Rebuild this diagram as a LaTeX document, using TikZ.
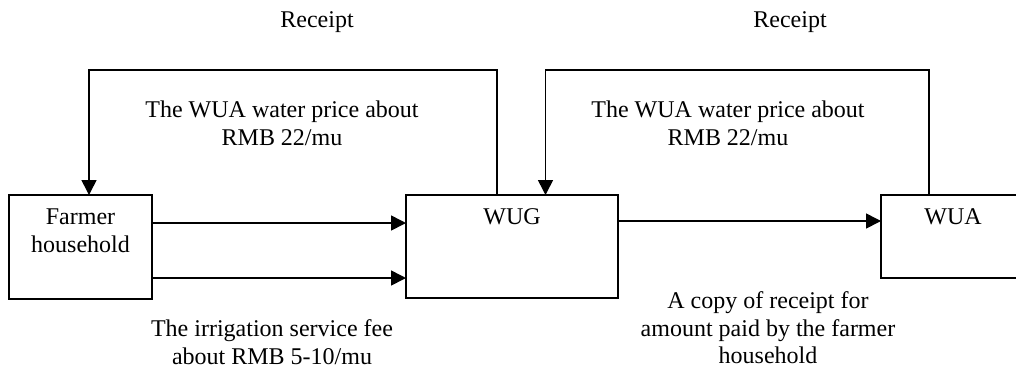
\documentclass[tikz,border=0pt]{standalone}
\usepackage{fontspec}
\setmainfont{Liberation Serif}
\usetikzlibrary{arrows.meta}
\begin{document}
\begin{tikzpicture}[x=1pt,y=-1pt,
  box/.style={draw,line width=1.6pt,inner sep=0pt,outer sep=0pt},
  txt/.style={font=\fontsize{24}{27.6}\selectfont,align=center,inner sep=0pt},
  arr/.style={line width=1.6pt,-{Triangle[length=15pt,width=15pt]}}]
\clip (0,0) rectangle (1016,368);
\fill[white] (0,0) rectangle (1016,368);
% boxes
\node[box,minimum width=143pt,minimum height=104pt] (farmer) at (80.5,247) {};
\node[box,minimum width=212pt,minimum height=103pt] (wug) at (512,246.5) {};
\node[box,minimum width=144pt,minimum height=83pt] (wua) at (953,236.5) {};
% box texts
\node[txt] (farmertxt) at (80.5,231) {Farmer\\household};
\node[txt] (wugtxt) at (512,217) {WUG};
\node[txt] (wuatxt) at (953,217) {WUA};
% labels
\node[txt] (rec1) at (317,22) {Receipt};
\node[txt] (rec2) at (790,22) {Receipt};
\node[txt] (price1) at (282,123.5) {The WUA water price about\\RMB 22/mu};
\node[txt] (price2) at (728,123.5) {The WUA water price about\\RMB 22/mu};
\node[txt] (fee) at (272,342) {The irrigation service fee\\about RMB 5-10/mu};
\node[txt] (copy) at (768,328) {A copy of receipt for\\amount paid by the farmer\\household};
% connectors
\draw[arr] ([xshift=91pt]wug.north west) -- ++(0,-125) -| ([xshift=8.5pt]farmer.north);
\draw[arr] ([xshift=48pt]wua.north west) -- ++(0,-125) -| ([xshift=139.5pt]wug.north west);
\draw[arr] ([yshift=24pt]farmer.east) -- ([yshift=24pt]farmer.east -| wug.west);
\draw[arr] ([yshift=-31pt]farmer.east) -- ([yshift=-31pt]farmer.east -| wug.west);
\draw[arr] ([yshift=15.5pt]wua.west -| wug.east) -- ([yshift=15.5pt]wua.west);
\end{tikzpicture}
\end{document}
